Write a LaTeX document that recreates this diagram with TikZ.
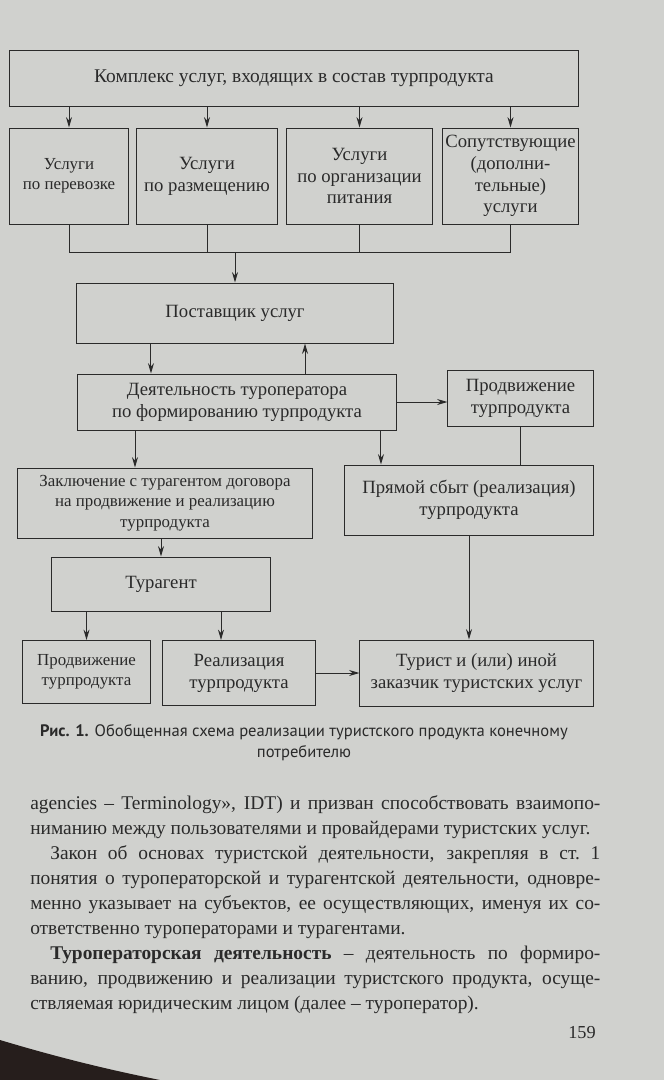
\documentclass[tikz,border=0pt]{standalone}
\usepackage{fontspec}
\setmainfont{Liberation Serif}
\newfontfamily\capfont{PT Sans}
\usetikzlibrary{arrows.meta}
\definecolor{paper}{RGB}{208,209,206}
\definecolor{ink}{RGB}{42,42,42}
\definecolor{edge}{RGB}{38,30,28}
\begin{document}
\begin{tikzpicture}[x=0.025cm,y=-0.025cm,
  box/.style={draw=ink,line width=0.7pt,fill=paper,align=center,inner sep=2pt,
    text=ink,font=\fontsize{13.3}{15.5}\selectfont},
  smallbox/.style={box,font=\fontsize{12}{14.5}\selectfont},
  link/.style={draw=ink,line width=0.7pt},
  arr/.style={link,-{Stealth[length=2.6mm,width=1.5mm]}}]
  % page of the book
  \fill[paper] (0,0) rectangle (664,1080);
  \useasboundingbox (0,0) rectangle (664,1080);
  \fill[edge] (0,1040) .. controls (60,1058) and (110,1070) .. (160,1080) -- (0,1080) -- cycle;

  % services that make up the tour product
  \node[box,minimum width=14.2cm,minimum height=1.4cm,font=\fontsize{13.8}{16}\selectfont]
    (complex) at (294,78) {Комплекс услуг, входящих в состав турпродукта};
  \node[smallbox,minimum width=2.95cm,minimum height=2.4cm] (transport) at (69,176)
    {Услуги\\по перевозке};
  \node[box,minimum width=3.5cm,minimum height=2.4cm] (accom) at (207,176)
    {Услуги\\по размещению};
  \node[box,minimum width=3.625cm,minimum height=2.4cm] (food) at (359.5,176)
    {Услуги\\по организации\\питания};
  \node[box,minimum width=3.375cm,minimum height=2.4cm] (extra) at (510.5,176)
    {Сопутствующие\\(дополни-\\тельные)\\услуги};
  \coordinate (bus) at (235,252);

  % operator level
  \node[box,minimum width=7.9cm,minimum height=1.5cm] (supplier) at (235,313)
    {Поставщик услуг};
  \node[box,minimum width=7.95cm,minimum height=1.4cm] (operator) at (237,402)
    {Деятельность туроператора\\по формированию турпродукта};
  \node[box,minimum width=3.625cm,minimum height=1.4cm] (promo) at (520.5,398)
    {Продвижение\\турпродукта};

  % sales level
  \node[smallbox,minimum width=7.35cm,minimum height=1.75cm] (contract) at (165,503)
    {Заключение с турагентом договора\\на продвижение и реализацию\\турпродукта};
  \node[box,minimum width=6.2cm,minimum height=1.75cm] (direct) at (469,500)
    {Прямой сбыт (реализация)\\турпродукта};
  \node[box,minimum width=5.45cm,minimum height=1.35cm] (agent) at (161,584)
    {Турагент};
  \node[smallbox,minimum width=3.175cm,minimum height=1.575cm] (agpromo) at (86.5,672)
    {Продвижение\\турпродукта};
  \node[box,minimum width=3.8cm,minimum height=1.625cm] (sale) at (239,673)
    {Реализация\\турпродукта};
  \node[box,minimum width=5.825cm,minimum height=1.65cm] (tourist) at (476.5,673)
    {Турист и (или) иной\\заказчик туристских услуг};

  % connectors
  \foreach \n in {transport,accom,food,extra}
    \draw[arr] (complex.south -| \n.north) -- (\n.north);
  \draw[link] (transport.south) |- (extra.south |- bus) -- (extra.south);
  \draw[link] (accom.south) -- (accom.south |- bus);
  \draw[link] (food.south) -- (food.south |- bus);
  \draw[arr] (bus) -- (supplier.north);
  \draw[arr] ([xshift=-2.1cm]supplier.south) -- ([xshift=-2.1cm]supplier.south |- operator.north);
  \draw[arr] ([xshift=1.7cm]operator.north) -- ([xshift=1.7cm]operator.north |- supplier.south);
  \draw[arr] (operator.east) -- (operator.east -| promo.west);
  \draw[arr] ([xshift=-0.75cm]contract.north |- operator.south) -- ([xshift=-0.75cm]contract.north);
  \draw[arr] ([xshift=-2.2cm]direct.north |- operator.south) -- ([xshift=-2.2cm]direct.north);
  \draw[link] (promo.south) -- (promo.south |- direct.north);
  \draw[arr] (agent.north |- contract.south) -- (agent.north);
  \draw[arr] (agpromo.north |- agent.south) -- (agpromo.north);
  \draw[arr] ([xshift=-0.45cm]sale.north |- agent.south) -- ([xshift=-0.45cm]sale.north);
  \draw[arr] (direct.south) -- (direct.south |- tourist.north);
  \draw[arr] (sale.east) -- (sale.east -| tourist.west);

  % caption and text of the page
  \node[align=center,text=ink,font=\capfont\fontsize{11.8}{15}\selectfont] (caption) at (304,743)
    {\textbf{Рис. 1.} Обобщенная схема реализации туристского продукта конечному\\потребителю};
  \node[anchor=north west,inner sep=0pt,text width=14.25cm,align=justify,text=ink,
    font=\fontsize{13.8}{17.8}\selectfont] (body) at (30,795)
    {agencies -- Terminology», IDT) и призван способствовать взаимопо-\linebreak
     ниманию между пользователями и провайдерами туристских услуг.\par
     \hspace*{0.5cm}Закон об основах туристской деятельности, закрепляя в ст.~1\linebreak
     понятия о туроператорской и турагентской деятельности, одновре-\linebreak
     менно указывает на субъектов, ее осуществляющих, именуя их со-\linebreak
     ответственно туроператорами и турагентами.\par
     \hspace*{0.5cm}\textbf{Туроператорская деятельность} -- деятельность по формиро-\linebreak
     ванию, продвижению и реализации туристского продукта, осуще-\linebreak
     ствляемая юридическим лицом (далее -- туроператор).};
  \node[text=ink,font=\fontsize{13}{15}\selectfont] (page) at (582,1033) {159};
\end{tikzpicture}
\end{document}
